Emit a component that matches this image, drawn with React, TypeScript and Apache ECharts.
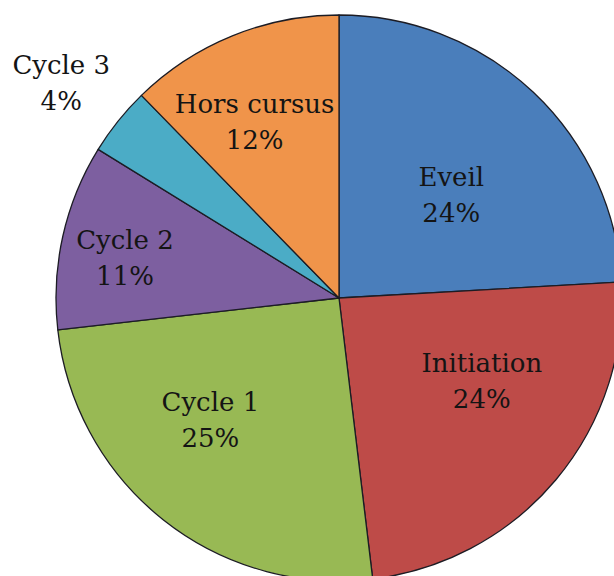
import React, { useEffect, useRef } from "react";
import * as echarts from "echarts";

const categories = ["Eveil", "Initiation", "Cycle 1", "Cycle 2", "Cycle 3", "Hors cursus"];
const shares = [24.1, 24.0, 25.1, 10.6, 3.9, 12.3];
const colors = ["#4A7EBB", "#BE4B48", "#98B954", "#7D5FA0", "#4BACC6", "#F0944A"];

// label nudges from the default inside position (px)
const labelShift: [number, number][] = [
  [13, 2],
  [32, -10],
  [-39, 9],
  [-73, -8],
  [-165, -125],
  [-30, -42],
];

export default function App() {
  const ref = useRef<HTMLDivElement>(null);
  useEffect(() => {
    if (!ref.current) return;
    const chart = echarts.init(ref.current, null, { renderer: "svg" });
    chart.setOption({
      animation: false,
      backgroundColor: "#ffffff",
      series: [
        {
          type: "pie",
          center: [339, 298],
          radius: 283,
          startAngle: 90,
          clockwise: true,
          percentPrecision: 0,
          avoidLabelOverlap: false,
          data: categories.map((name, i) => ({
            name,
            value: shares[i],
            itemStyle: { color: colors[i] },
          })),
          itemStyle: { borderColor: "#1c1c24", borderWidth: 1.3 },
          label: {
            show: true,
            position: "inside",
            formatter: "{b}\n{d}%",
            fontFamily: "DejaVu Serif",
            fontSize: 26,
            lineHeight: 36,
            color: "#141414",
            align: "center",
          },
          labelLine: { show: false },
          labelLayout: (p: any) => {
            const s = labelShift[p.dataIndex] || [0, 0];
            return { dx: s[0], dy: s[1] };
          },
        },
      ],
    });
    return () => chart.dispose();
  }, []);
  return (
    <div
      ref={ref}
      style={{ position: "fixed", left: 0, top: 0, width: 614, height: 576 }}
    />
  );
}
